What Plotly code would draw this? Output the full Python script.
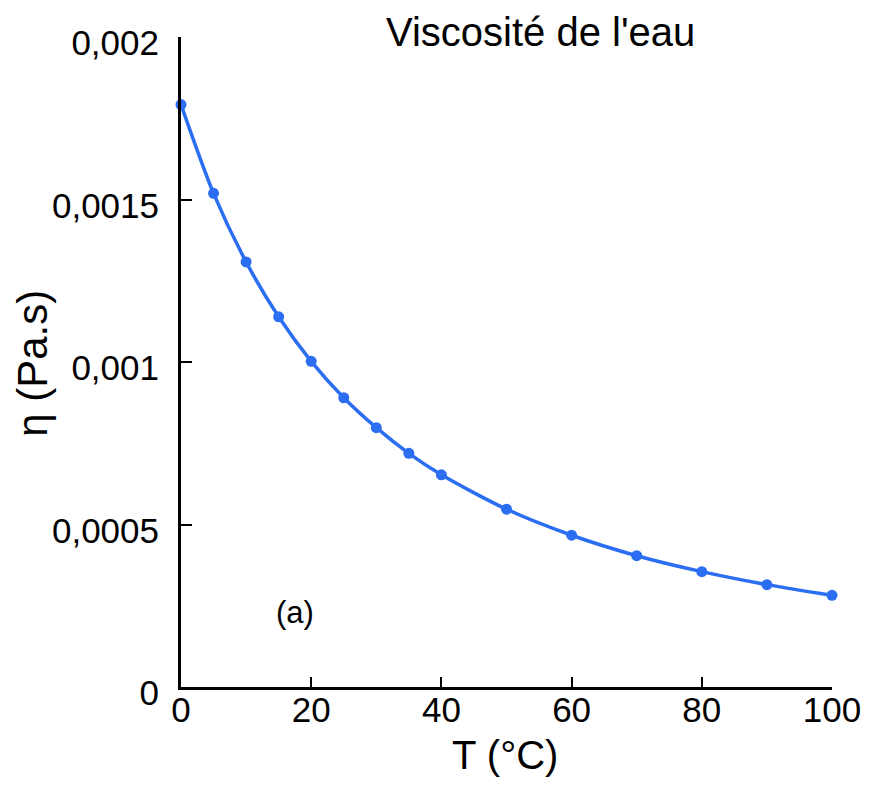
import plotly.graph_objects as go

temperature_c = [0, 5, 10, 15, 20, 25, 30, 35, 40, 50, 60, 70, 80, 90, 100]
viscosity_pas = [0.001792, 0.001519, 0.001308, 0.001139, 0.001002, 0.000890,
                 0.000798, 0.000719, 0.000653, 0.000547, 0.000467, 0.000404,
                 0.000355, 0.000315, 0.000282]

x_tickvals = [0, 20, 40, 60, 80, 100]
y_tickvals = [0, 0.0005, 0.001, 0.0015, 0.002]
y_ticktext = ["0", "0,0005", "0,001", "0,0015", "0,002"]

title_text = "Viscosité de l'eau"
x_title = "T (°C)"
y_title = "η (Pa.s)"
panel_label = "(a)"

BLUE = "#2b6ef2"
FONT = "Liberation Sans, Arial, sans-serif"

fig = go.Figure()
fig.add_trace(go.Scatter(
    x=temperature_c, y=viscosity_pas, mode="lines+markers",
    line=dict(color=BLUE, width=3.5, shape="spline", smoothing=0.8),
    marker=dict(color=BLUE, size=11),
    showlegend=False, hoverinfo="skip", cliponaxis=False,
))

# page body has an 8px margin; figure is sized so the plot lands where the reference has it
fig.update_layout(
    width=854, height=769,
    margin=dict(l=173, r=30, t=29, b=90),
    paper_bgcolor="white", plot_bgcolor="white",
    font=dict(family=FONT, color="black"),
    showlegend=False,
)

fig.update_xaxes(
    range=[0, 100], tickvals=x_tickvals, ticks="inside", ticklen=10, tickwidth=2,
    tickcolor="black", showline=True, linecolor="black", linewidth=3,
    showgrid=False, zeroline=False, tickfont=dict(size=35, family=FONT, color="black"),
    ticklabelstandoff=-10, automargin=False,
)
fig.update_yaxes(
    range=[0, 0.002], tickvals=y_tickvals, ticktext=y_ticktext, ticks="inside",
    ticklen=11, tickwidth=2, tickcolor="black", showline=True, linecolor="black",
    linewidth=3, showgrid=False, zeroline=False,
    tickfont=dict(size=35, family=FONT, color="black"), ticklabelstandoff=12,
    ticklabelshift=6, automargin=False,
)

fig.add_annotation(text=title_text, xref="paper", yref="paper", x=0.552, y=1.0077,
                   xanchor="center", yanchor="middle", showarrow=False,
                   font=dict(size=40, family=FONT, color="black"))
fig.add_annotation(text=x_title, xref="paper", yref="paper", x=0.497, y=-0.104,
                   xanchor="center", yanchor="middle", showarrow=False,
                   font=dict(size=40, family=FONT, color="black"))
fig.add_annotation(text=y_title, xref="paper", yref="paper", x=-0.228, y=0.498,
                   xanchor="center", yanchor="middle", showarrow=False, textangle=-90,
                   font=dict(size=42, family=FONT, color="black"))
fig.add_annotation(text=panel_label, x=17.5, y=0.000228, xref="x", yref="y",
                   xanchor="center", yanchor="middle", showarrow=False,
                   font=dict(size=31, family=FONT, color="black"))

fig.write_html("out.html")
